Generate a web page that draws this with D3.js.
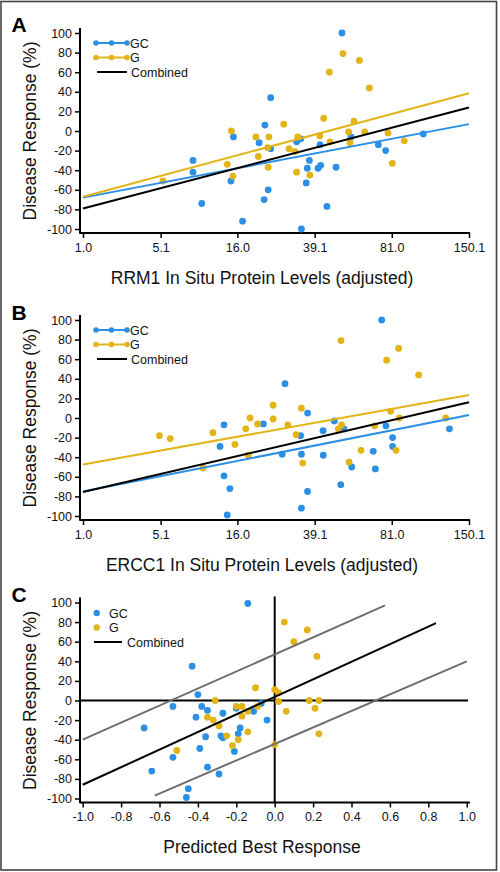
<!DOCTYPE html>
<html><head><meta charset="utf-8">
<script src="https://cdn.jsdelivr.net/npm/d3@7"></script>
<style>body{margin:0;background:#fff}</style>
</head><body>
<svg id="chart" width="500" height="872"></svg>
<script>
// ---------- data ----------
const yTickValues = [100, 80, 60, 40, 20, 0, -20, -40, -60, -80, -100];
const proteinTickValues = [1.0, 5.1, 16.0, 39.1, 81.0, 150.1];
const proteinTickLabels = ["1.0", "5.1", "16.0", "39.1", "81.0", "150.1"];
const predTickValues = [-1.0, -0.8, -0.6, -0.4, -0.2, 0.0, 0.2, 0.4, 0.6, 0.8, 1.0];
const predTickLabels = ["-1.0", "-0.8", "-0.6", "-0.4", "-0.2", "0.0", "0.2", "0.4", "0.6", "0.8", "1.0"];
const seriesNames = ["GC", "G", "Combined"];
const panelLabels = ["A", "B", "C"];
const xTitles = ["RRM1 In Situ Protein Levels (adjusted)", "ERCC1 In Situ Protein Levels (adjusted)", "Predicted Best Response"];
const yTitle = "Disease Response (%)";

const rrm1GC = [[51.4,100],[24.1,34],[22.5,6],[21.0,-12],[32.3,-11],[33.8,-8],[41.3,-14],[56.0,-6],[72.0,-14],[105.4,-3],[76.8,-20],[15.2,-6],[8.6,-30],[8.6,-42],[9.8,-74],[14.7,-51],[17.1,-92],[24.1,-18],[23.4,-60],[22.3,-70],[37.0,-30],[36.2,-38],[35.8,-53],[41.6,-35],[40.5,-38],[48.5,-37],[44.3,-77],[34.0,-100]];
const rrm1G = [[51.9,79],[60.6,72],[45.4,60],[66.4,44],[42.9,13],[57.6,10],[28.0,7],[20.2,-6],[23.6,-6],[32.7,-6],[41.2,-5],[54.8,-1],[63.7,-1],[78.4,-2],[90.1,-10],[45.7,-11],[55.5,-12],[29.7,-18],[23.3,-17],[14.8,0],[5.3,-51],[14.0,-34],[15.1,-46],[20.8,-26],[23.4,-37],[32.3,-42],[37.2,-45],[31.7,-21],[81.4,-33]];
const ercc1GC = [[13.4,-7],[12.7,-29],[13.4,-59],[14.5,-72],[14.0,-99],[74.2,100],[28.4,35],[36.3,5],[22.1,-6],[47.7,-3],[129.5,-11],[77.0,-8],[52.4,-11],[42.6,-13],[33.7,-18],[81.6,-20],[81.6,-29],[27.5,-37],[34.0,-37],[42.7,-38],[68.8,-34],[56.4,-50],[70.1,-52],[50.8,-68],[36.3,-75],[34.0,-92]];
const ercc1G = [[5.0,-18],[6.0,-21],[11.5,-15],[17.8,-11],[18.8,0],[15.5,-27],[10.0,-51],[18.4,-38],[50.9,79],[85.9,71],[77.5,59],[101.5,44],[24.8,13],[34.0,10],[24.8,-1],[20.6,-6],[29.3,-7],[80.2,7],[86.4,0],[125.8,0],[69.7,-8],[51.2,-7],[49.6,-11],[32.1,-17],[61.5,-33],[84.0,-33],[34.5,-46],[55.0,-45]];
const predGC = [[-0.14,99],[-0.43,35],[-0.40,6],[-0.53,-6],[-0.38,-6],[-0.35,-10],[-0.41,-17],[-0.27,-13],[-0.20,-8],[-0.18,-28],[-0.68,-28],[-0.36,-37],[-0.28,-36],[-0.27,-38],[-0.19,-34],[-0.21,-52],[-0.53,-58],[-0.39,-49],[-0.35,-68],[-0.29,-75],[-0.64,-72],[-0.45,-90],[-0.46,-99],[-0.07,-3],[-0.11,-11],[-0.04,-20]];
const predG = [[-0.31,0],[-0.35,-17],[-0.32,-20],[-0.29,-26],[-0.20,-6],[-0.17,-6],[-0.17,-16],[-0.14,-11],[-0.25,-36],[-0.14,-32],[-0.22,-46],[-0.19,-40],[-0.51,-51],[0.05,80],[0.17,72],[0.10,60],[0.22,45],[-0.10,13],[0.00,11],[0.02,8],[0.02,-1],[0.18,0],[0.23,0],[0.21,-8],[-0.09,-6],[0.06,-11],[0.23,-34],[0.00,-45]];

const rrm1FitGC = [[1.0,-68],[150.1,7]];
const rrm1FitG = [[1.0,-67],[150.1,38.5]];
const rrm1FitCombined = [[1.0,-79],[150.1,24]];
const ercc1FitGC = [[1.0,-75],[150.1,3]];
const ercc1FitG = [[1.0,-47.5],[150.1,23.5]];
const ercc1FitCombined = [[1.0,-75.5],[150.1,16]];
const predFitCombined = [[-1.0,-86],[0.84,79]];
const predBandUpper = [[-1.0,-40],[0.575,97]];
const predBandLower = [[-0.625,-97],[1.0,40]];

// ---------- style ----------
const BLUE = "#2b8fe6", YELLOW = "#e3b417", BLACK = "#000", GRAY = "#6e6e6e";
const FONT = "'Liberation Sans', Arial, sans-serif";
const AXIS_X = 80, X_LEFT = 83, X_RIGHT = 469, X_AXIS_END = 470;

const svg = d3.select("#chart");
svg.append("rect").attr("x", 1).attr("y", 1.5).attr("width", 495.5).attr("height", 868.5)
  .attr("fill", "none").attr("stroke", "#444").attr("stroke-width", 1.6);

function drawPanel(cfg, idx) {
  const g = svg.append("g");
  const top = cfg.top;
  const y = d3.scaleLinear().domain([-100, 100]).range([top + 196, top]);
  const x = cfg.x;
  const axisY = top + 200;

  // y axis
  const ya = g.append("g").attr("transform", `translate(${AXIS_X},0)`)
    .call(d3.axisLeft(y).tickValues(yTickValues).tickFormat(d => String(d)).tickSize(5).tickPadding(3));
  ya.select(".domain").remove();
  // x axis
  const xa = g.append("g").attr("transform", `translate(0,${axisY})`)
    .call(d3.axisBottom(x).tickValues(cfg.ticks).tickFormat((d, i) => cfg.tickLabels[i]).tickSize(5).tickPadding(5));
  xa.select(".domain").remove();
  [ya, xa].forEach(a => {
    a.selectAll("line").attr("stroke", "#000").attr("stroke-width", 1.5);
    a.selectAll("text").attr("font-family", FONT).attr("font-size", 12.5).attr("fill", "#111");
  });
  g.append("line").attr("x1", AXIS_X).attr("x2", AXIS_X).attr("y1", top - 5).attr("y2", axisY + 0.8)
    .attr("stroke", "#000").attr("stroke-width", 2);
  g.append("line").attr("x1", AXIS_X).attr("x2", X_AXIS_END).attr("y1", axisY).attr("y2", axisY)
    .attr("stroke", "#000").attr("stroke-width", 2);

  // reference lines (panel C)
  if (cfg.zeroLines) {
    g.append("line").attr("x1", x(0)).attr("x2", x(0)).attr("y1", top - 6).attr("y2", axisY)
      .attr("stroke", "#000").attr("stroke-width", 2);
    g.append("line").attr("x1", AXIS_X).attr("x2", X_AXIS_END - 2).attr("y1", y(0)).attr("y2", y(0))
      .attr("stroke", "#000").attr("stroke-width", 2);
  }

  // points
  const pts = g.append("g");
  cfg.series.forEach(s => {
    pts.selectAll(null).data(s.data).join("circle")
      .attr("cx", d => x(d[0])).attr("cy", d => y(d[1])).attr("r", 3.4).attr("fill", s.color);
  });

  // fit lines
  const line = d3.line().x(d => x(d[0])).y(d => y(d[1]));
  cfg.fits.forEach(f => {
    g.append("path").attr("d", line(f.data)).attr("fill", "none")
      .attr("stroke", f.color).attr("stroke-width", f.width || 2);
  });

  // legend
  const lg = g.append("g");
  const lx0 = 96, lx1 = 127;
  const ly = [top + 10, top + 24.5, top + 39];
  if (cfg.legendLines) {
    [BLUE, YELLOW].forEach((c, i) => {
      lg.append("line").attr("x1", lx0).attr("x2", lx1).attr("y1", ly[i]).attr("y2", ly[i])
        .attr("stroke", c).attr("stroke-width", 2);
      [lx0, (lx0 + lx1) / 2, lx1].forEach(cx => lg.append("circle").attr("cx", cx).attr("cy", ly[i]).attr("r", 2.8).attr("fill", c));
      lg.append("text").attr("x", 130).attr("y", ly[i]).attr("dy", "0.36em").text(seriesNames[i]);
    });
    lg.append("line").attr("x1", 97).attr("x2", 127).attr("y1", ly[2]).attr("y2", ly[2]).attr("stroke", BLACK).attr("stroke-width", 2);
    lg.append("text").attr("x", 131).attr("y", ly[2]).attr("dy", "0.36em").text(seriesNames[2]);
  } else {
    [BLUE, YELLOW].forEach((c, i) => {
      lg.append("circle").attr("cx", 96.7).attr("cy", ly[i] + 0.5).attr("r", 3.2).attr("fill", c);
      lg.append("text").attr("x", 109).attr("y", ly[i] + 0.5).attr("dy", "0.36em").text(seriesNames[i]);
    });
    lg.append("line").attr("x1", 94).attr("x2", 122).attr("y1", ly[2] + 0.5).attr("y2", ly[2] + 0.5).attr("stroke", BLACK).attr("stroke-width", 2);
    lg.append("text").attr("x", 127).attr("y", ly[2] + 0.5).attr("dy", "0.36em").text(seriesNames[2]);
  }
  lg.selectAll("text").attr("font-family", FONT).attr("font-size", 12.5).attr("fill", "#111");

  // panel label
  g.append("text").attr("x", 11.5).attr("y", cfg.labelY).text(panelLabels[idx])
    .attr("font-family", FONT).attr("font-weight", "bold").attr("font-size", 21).attr("fill", "#000");
  // y title
  g.append("text").attr("transform", `translate(36,${top + 98}) rotate(-90)`).attr("text-anchor", "middle")
    .text(yTitle).attr("font-family", FONT).attr("font-size", 17.5).attr("fill", "#111");
  // x title
  g.append("text").attr("x", 262).attr("y", cfg.titleY).attr("text-anchor", "middle")
    .text(xTitles[idx]).attr("font-family", FONT).attr("font-size", 17.5).attr("fill", "#111");
}

const proteinX = () => d3.scalePow().exponent(0.25).domain([1.0, 150.1]).range([X_LEFT, X_RIGHT]);
const predX = d3.scaleLinear().domain([-1, 1]).range([82.7, 466.7]);

drawPanel({
  top: 33, x: proteinX(), ticks: proteinTickValues, tickLabels: proteinTickLabels,
  series: [{ data: rrm1GC, color: BLUE }, { data: rrm1G, color: YELLOW }],
  fits: [{ data: rrm1FitGC, color: BLUE }, { data: rrm1FitG, color: YELLOW }, { data: rrm1FitCombined, color: BLACK }],
  legendLines: true, labelY: 31.7, titleY: 283.5
}, 0);
drawPanel({
  top: 320, x: proteinX(), ticks: proteinTickValues, tickLabels: proteinTickLabels,
  series: [{ data: ercc1GC, color: BLUE }, { data: ercc1G, color: YELLOW }],
  fits: [{ data: ercc1FitGC, color: BLUE }, { data: ercc1FitG, color: YELLOW }, { data: ercc1FitCombined, color: BLACK }],
  legendLines: true, labelY: 319.5, titleY: 571
}, 1);
drawPanel({
  top: 602.5, x: predX, ticks: predTickValues, tickLabels: predTickLabels,
  series: [{ data: predGC, color: BLUE }, { data: predG, color: YELLOW }],
  fits: [{ data: predBandUpper, color: GRAY }, { data: predBandLower, color: GRAY }, { data: predFitCombined, color: BLACK }],
  legendLines: false, zeroLines: true, labelY: 601.7, titleY: 853
}, 2);
</script>
</body></html>
